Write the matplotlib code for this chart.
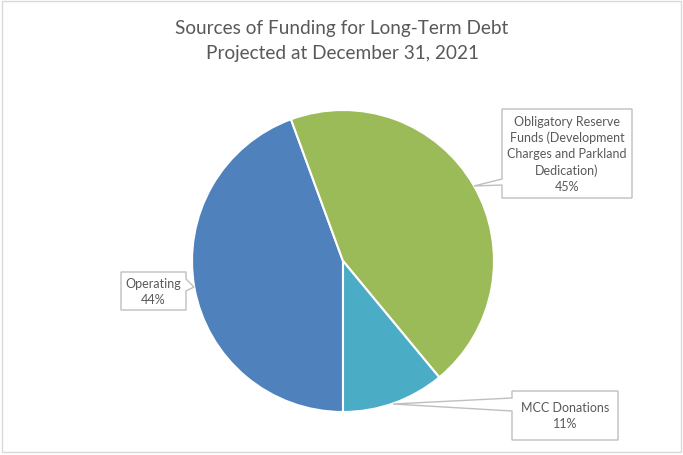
import matplotlib
matplotlib.use("Agg")
import matplotlib.pyplot as plt
from matplotlib.patches import Polygon, Rectangle

categories = ["Operating", "Obligatory Reserve\nFunds (Development\nCharges and Parkland\nDedication)", "MCC Donations"]
values = [44.4, 44.6, 11.0]
pct_labels = ["44%", "45%", "11%"]
colors = ["#4F81BD", "#9BBB59", "#4BACC6"]
title = "Sources of Funding for Long-Term Debt\nProjected at December 31, 2021"

W, H = 683, 456
fig = plt.figure(figsize=(W / 100, H / 100), dpi=100)
FONT = "Lato"
TXT = "#595959"

# pie axes: center (343,262) px, radius 151
cx, cy, r = 343, 262, 151
ax = fig.add_axes([(cx - r) / W, (H - cy - r) / H, 2 * r / W, 2 * r / H])
ax.pie(values, colors=colors, startangle=-90, counterclock=False,
       wedgeprops=dict(edgecolor="white", linewidth=1.5))
ax.set_xlim(-1, 1)
ax.set_ylim(-1, 1)
ax.set_aspect("auto")
ax.axis("off")

# overlay in pixel coords
ov = fig.add_axes([0, 0, 1, 1], zorder=5)
ov.set_xlim(0, W)
ov.set_ylim(H, 0)
ov.axis("off")
ov.patch.set_alpha(0)

# outer border
ov.add_patch(Rectangle((2, 2), W - 4, H - 5, fill=False, edgecolor="#D9D9D9", linewidth=1))

ov.text(342, 41, title, ha="center", va="center", fontsize=13.7, color=TXT,
        family=FONT, linespacing=1.55)

def callout(box, tip, side, a, b, text):
    x0, y0, x1, y1 = box
    if side == "left":
        pts = [(x0, y0), (x1, y0), (x1, y1), (x0, y1), (x0, b), tip, (x0, a)]
    else:
        pts = [(x0, y0), (x1, y0), (x1, a), tip, (x1, b), (x1, y1), (x0, y1)]
    ov.add_patch(Polygon(pts, closed=True, facecolor="white", edgecolor="#BFBFBF", linewidth=1))
    ov.text((x0 + x1) / 2, (y0 + y1) / 2, text, ha="center", va="center",
            fontsize=9, color=TXT, family=FONT, linespacing=1.4)

# Obligatory Reserve
callout((502, 110, 632, 199), (474, 187), "left", 180, 186,
        categories[1] + "\n" + pct_labels[1])
# Operating
callout((121, 273, 186, 311), (194, 288), "right", 280, 292,
        categories[0] + "\n" + pct_labels[0])
# MCC Donations
callout((512, 392, 618, 441), (393, 405), "left", 399, 412,
        categories[2] + "\n" + pct_labels[2])

fig.savefig("out.png", dpi=100)
